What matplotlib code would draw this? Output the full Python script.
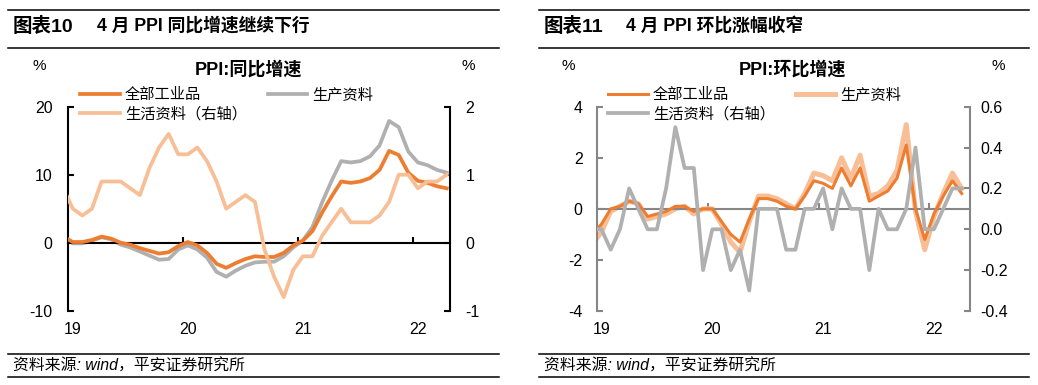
import matplotlib
matplotlib.use('Agg')
import matplotlib.pyplot as plt
from matplotlib.lines import Line2D

plt.rcParams['font.family'] = ['Liberation Sans', 'Noto Sans CJK SC', 'DejaVu Sans']
plt.rcParams['axes.unicode_minus'] = False

# ---------------- data ----------------
# month index: Dec 2018 = -1, Jan 2019 = 0 ... Apr 2022 = 39
months = list(range(-1, 40))
year_labels = ['19', '20', '21', '22']
year_pos = [0, 12, 24, 36]
year_bounds = [11.5, 23.5, 35.5]

# PPI YoY (%)
yoy_all = [0.9,
           0.1, 0.1, 0.4, 0.9, 0.6, 0.0, -0.3, -0.8, -1.2, -1.6, -1.4, -0.5,
           0.1, -0.4, -1.5, -3.1, -3.7, -3.0, -2.4, -2.0, -2.1, -2.1, -1.5, -0.4,
           0.3, 1.7, 4.4, 6.8, 9.0, 8.8, 9.0, 9.5, 10.7, 13.5, 12.9, 10.3,
           9.1, 8.8, 8.3, 8.0]
yoy_prod = [1.0,
            -0.1, -0.1, 0.3, 0.8, 0.5, -0.3, -0.7, -1.3, -1.9, -2.5, -2.4, -1.0,
            -0.4, -1.0, -2.2, -4.3, -5.0, -4.1, -3.4, -2.9, -2.8, -2.8, -2.0, -0.7,
            0.3, 2.3, 5.9, 9.1, 12.0, 11.8, 12.0, 12.7, 14.3, 17.9, 17.0, 13.4,
            11.8, 11.4, 10.7, 10.3]
yoy_cons = [0.8,
            0.5, 0.4, 0.5, 0.9, 0.9, 0.9, 0.8, 0.7, 1.1, 1.4, 1.6, 1.3,
            1.3, 1.4, 1.2, 0.9, 0.5, 0.6, 0.7, 0.6, -0.1, -0.5, -0.8, -0.4,
            -0.2, -0.2, 0.1, 0.3, 0.5, 0.3, 0.3, 0.3, 0.4, 0.6, 1.0, 1.0,
            0.8, 0.9, 0.9, 1.0]

# PPI MoM (%)
mom_all = [-1.0,
           -0.6, 0.0, 0.1, 0.3, 0.2, -0.3, -0.2, -0.1, 0.1, 0.1, -0.1, 0.0,
           0.0, -0.5, -1.0, -1.3, -0.4, 0.4, 0.4, 0.3, 0.1, 0.0, 0.5, 1.1,
           1.0, 0.8, 1.6, 0.9, 1.6, 0.3, 0.5, 0.7, 1.2, 2.5, 0.0, -1.2,
           -0.2, 0.5, 1.1, 0.6]
mom_prod = [-1.4,
            -0.9, -0.1, 0.1, 0.3, 0.2, -0.4, -0.3, -0.2, 0.0, 0.1, -0.2, 0.0,
            0.0, -0.6, -1.3, -1.7, -0.5, 0.5, 0.5, 0.4, 0.2, 0.0, 0.6, 1.4,
            1.3, 1.1, 2.0, 1.2, 2.1, 0.5, 0.6, 0.9, 1.5, 3.3, -0.1, -1.6,
            -0.3, 0.6, 1.4, 0.8]
mom_cons = [0.0,
            0.0, -0.1, 0.0, 0.2, 0.1, 0.0, 0.0, 0.2, 0.5, 0.3, 0.3, -0.2,
            0.0, 0.0, -0.2, -0.1, -0.3, 0.1, 0.1, 0.1, -0.1, -0.1, 0.1, 0.1,
            0.2, 0.0, 0.2, 0.1, 0.1, -0.2, 0.1, 0.0, 0.0, 0.1, 0.4, 0.0,
            0.0, 0.1, 0.2, 0.2]

names = ['全部工业品', '生产资料', '生活资料（右轴）']
left_yticks_L = [-10, 0, 10, 20]
left_yticks_R = [-1, 0, 1, 2]
right_yticks_L = [-4, -2, 0, 2, 4]
right_yticks_R = [-0.4, -0.2, 0.0, 0.2, 0.4, 0.6]

ORANGE = '#ED7D31'
GRAY = '#B0B0B0'
LIGHT = '#F8BE95'
AXGRAY = '#868686'

# ---------------- figure ----------------
W, H = 1038, 385
fig = plt.figure(figsize=(W / 100, H / 100), dpi=100)


def fx(px):
    return px / W


def fy(py):
    return 1 - py / H


def hline(x0, x1, y, lw=1.1):
    fig.add_artist(Line2D([fx(x0), fx(x1)], [fy(y), fy(y)], transform=fig.transFigure,
                          color='black', lw=lw))


TICK_FS = 11.5
LEG_FS = 11


def style_axes(ax, ax2, color, lw, xlim, ylim, ylim2, yt, yt2, fmt2, padL, padR):
    ax.set_xlim(*xlim)
    ax.set_ylim(*ylim)
    ax2.set_ylim(*ylim2)
    for s in ['top', 'right']:
        ax.spines[s].set_visible(False)
    for s in ['top', 'left', 'bottom']:
        ax2.spines[s].set_visible(False)
    ax.spines['bottom'].set_position(('data', 0))
    ax.spines['bottom'].set_color(color)
    ax.spines['bottom'].set_linewidth(lw)
    ax.spines['left'].set_color(color)
    ax.spines['left'].set_linewidth(lw)
    ax2.spines['right'].set_color(color)
    ax2.spines['right'].set_linewidth(lw)
    ax.set_xticks(year_bounds)
    ax.tick_params(axis='x', direction='in', length=4, width=lw, color=color, labelbottom=False)
    ax.set_yticks(yt)
    ax.tick_params(axis='y', direction='in', length=4, width=lw, color=color,
                   labelsize=TICK_FS, pad=padL)
    ax2.set_yticks(yt2)
    ax2.set_yticklabels([fmt2(v) for v in yt2])
    ax2.tick_params(axis='y', direction='in', length=4, width=lw, color=color,
                    labelsize=TICK_FS, pad=padR)
    for p, lab in zip(year_pos, year_labels):
        ax.text(p, -0.09, lab, transform=ax.get_xaxis_transform(), ha='center',
                va='center', fontsize=TICK_FS)


def add_legend(ax, handles, x0):
    ax.legend(handles=handles, ncol=2, loc='upper left',
              bbox_to_anchor=(fx(x0), fy(88)), bbox_transform=fig.transFigure,
              frameon=False, fontsize=LEG_FS, borderpad=0, borderaxespad=0,
              handlelength=2.6, handletextpad=0.33, columnspacing=1.37, labelspacing=0.3)


# ---------- left chart ----------
axA = fig.add_axes([fx(68), fy(310.7), fx(450) - fx(68), (310.7 - 106.7) / H])
axA2 = axA.twinx()
la1, = axA.plot(months, yoy_all, color=ORANGE, lw=2.7, label=names[0], zorder=3)
la2, = axA.plot(months, yoy_prod, color=GRAY, lw=2.7, label=names[1], zorder=2)
la3, = axA2.plot(months, yoy_cons, color=LIGHT, lw=2.7, label=names[2])
style_axes(axA, axA2, 'black', 1.5, (-0.5, 39.35), (-10, 20), (-1, 2),
           left_yticks_L, left_yticks_R, lambda v: f'{v:g}', 11, 11)
add_legend(axA, [la1, la3, la2], 80)

# ---------- right chart ----------
axB = fig.add_axes([fx(597.3), fy(311), fx(970) - fx(597.3), (311 - 106.7) / H])
axB2 = axB.twinx()
lb2, = axB.plot(months, mom_prod, color=LIGHT, lw=3.6, label=names[1], zorder=2)
lb1, = axB.plot(months, mom_all, color=ORANGE, lw=2.2, label=names[0], zorder=3)
lb3, = axB2.plot(months, mom_cons, color=GRAY, lw=2.7, label=names[2])
style_axes(axB, axB2, AXGRAY, 1.5, (-0.45, 39.9), (-4, 4), (-0.4, 0.6),
           right_yticks_L, right_yticks_R, lambda v: f'{v:.1f}', 10.5, 7.5)
add_legend(axB, [lb1, lb3, lb2], 608)

# ---------- titles, units, footers ----------
for x0, x1, num, ttl, tx, sub, subx, pl, pr in [
        (8, 499, '图表10', '4 月 PPI 同比增速继续下行', 97, 'PPI:同比增速', 248, 39, 468),
        (538.7, 1028.7, '图表11', '4 月 PPI 环比涨幅收窄', 626, 'PPI:环比增速', 792, 568, 998)]:
    hline(x0, x1, 10)
    hline(x0, x1, 48.3)
    fig.text(fx(x0 + 5), fy(26), num, fontsize=14, fontweight='bold', ha='left', va='center')
    fig.text(fx(tx), fy(26), ttl, fontsize=12.8, fontweight='bold', ha='left', va='center')
    fig.text(fx(subx), fy(70), sub, fontsize=13, fontweight='bold', ha='center', va='center')
    fig.text(fx(pl), fy(66.5), '%', fontsize=11, ha='center', va='center')
    fig.text(fx(pr), fy(66.5), '%', fontsize=11, ha='center', va='center')
    hline(x0, x1, 354.3)
    hline(x0, x1, 377.3)
    fig.text(fx(x0 + 5), fy(366), '资料来源: wind，平安证券研究所', fontsize=11.4,
             style='italic', ha='left', va='center')

fig.savefig('out.png', dpi=100)
